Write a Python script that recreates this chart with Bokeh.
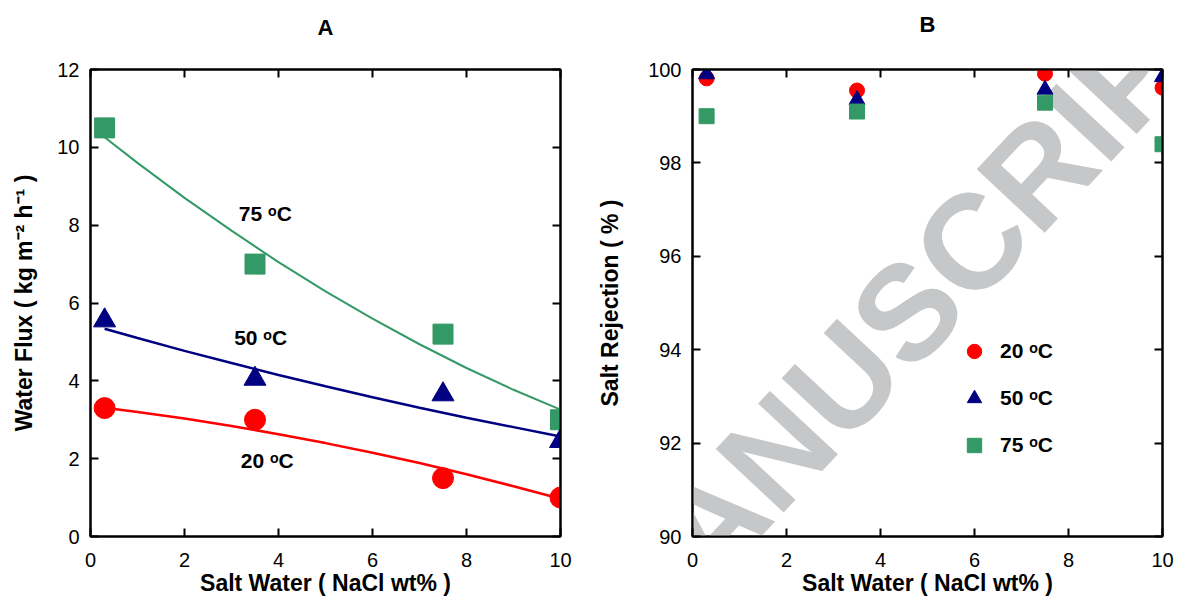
from bokeh.plotting import figure
from bokeh.models import (LinearAxis, FixedTicker, Label, Legend, LegendItem, Range1d)
from bokeh.layouts import row
from bokeh.embed import file_html
from bokeh.resources import INLINE

# ---------------- data ----------------
salt = [0.3, 3.5, 7.5, 10]
flux_20 = [3.3, 3.0, 1.5, 1.0]
flux_50 = [5.55, 4.05, 3.65, 2.45]
flux_75 = [10.5, 7.0, 5.2, 3.0]

# fitted curves
fit_x = [0.3, 1, 2, 3, 4, 5, 6, 7, 8, 9, 10]
fit_20 = [3.31, 3.20, 3.03, 2.84, 2.63, 2.40, 2.15, 1.89, 1.60, 1.29, 0.97]
fit_50 = [5.34, 5.10, 4.77, 4.46, 4.15, 3.86, 3.58, 3.31, 3.05, 2.81, 2.57]
fit_75 = [10.26, 9.60, 8.70, 7.86, 7.05, 6.30, 5.60, 4.94, 4.33, 3.77, 3.26]

rej_20 = [99.81, 99.55, 99.91, 99.61]
rej_50 = [99.9, 99.35, 99.57, 99.84]
rej_75 = [99.0, 99.1, 99.29, 98.4]

series_names = ["20 ᵒC", "50 ᵒC", "75 ᵒC"]
label_x = [3.76, 3.62, 3.72]
label_y = [1.95, 5.12, 8.3]

x_ticks = [0, 2, 4, 6, 8, 10]
yA_ticks = [0, 2, 4, 6, 8, 10, 12]
yB_ticks = [90, 92, 94, 96, 98, 100]

RED = "#ff0000"
NAVY = "#000080"
GREEN = "#339966"
FONT = "Liberation Sans"


def style_axis(ax, ticks, show_labels=True):
    ax.ticker = FixedTicker(ticks=ticks)
    ax.minor_tick_line_color = None
    ax.major_tick_in = 8
    ax.major_tick_out = 0
    ax.major_tick_line_width = 2
    ax.major_tick_line_color = "black"
    ax.axis_line_width = 2
    ax.axis_line_color = "black"
    ax.major_label_text_font = FONT
    ax.major_label_text_color = "black"
    ax.axis_label_text_font = FONT
    ax.axis_label_text_font_style = "bold"
    ax.axis_label_text_font_size = "23px"
    ax.axis_label_text_color = "black"
    ax.level = "overlay"
    if show_labels:
        ax.major_label_text_font_size = "20px"
    else:
        ax.major_label_text_font_size = "0px"
        ax.major_label_standoff = 0


def make_fig(title, yr, yticks, left_border, right_border, xlabel, ylabel,
             ylabel_standoff, title_gap):
    p = figure(frame_width=470, frame_height=467,
               x_range=Range1d(0, 10), y_range=Range1d(*yr),
               output_backend="svg", toolbar_location=None,
               x_axis_location=None, y_axis_location=None,
               min_border_left=left_border, min_border_right=right_border,
               min_border_top=69, min_border_bottom=66)
    p.xgrid.visible = False
    p.ygrid.visible = False
    p.outline_line_color = "black"
    p.outline_line_width = 2
    p.background_fill_color = "white"
    p.border_fill_color = "white"

    bottom = LinearAxis(axis_label=xlabel)
    left = LinearAxis(axis_label=ylabel)
    style_axis(bottom, x_ticks)
    style_axis(left, yticks)
    bottom.major_label_standoff = 16
    bottom.axis_label_standoff = 0
    left.major_label_standoff = 11
    left.axis_label_standoff = ylabel_standoff
    # top axis: inward ticks, panel letter as its label
    top = LinearAxis(axis_label=title)
    right = LinearAxis()
    style_axis(top, x_ticks, show_labels=False)
    style_axis(right, yticks, show_labels=False)
    top.axis_label_text_font_size = "22px"
    top.axis_label_standoff = title_gap
    p.add_layout(bottom, "below")
    p.add_layout(left, "left")
    p.add_layout(top, "above")
    p.add_layout(right, "right")
    return p


# ---------------- panel A ----------------
pA = make_fig("A", (0, 12), yA_ticks, 90, 20,
              "Salt Water ( NaCl wt% )", "Water Flux ( kg m⁻² h⁻¹ )", 17, 30)

pA.line(fit_x, fit_75, line_color=GREEN, line_width=2)
pA.line(fit_x, fit_50, line_color=NAVY, line_width=2.5)
pA.line(fit_x, fit_20, line_color=RED, line_width=2.5)
pA.scatter(salt, flux_75, marker="square", size=20, fill_color=GREEN, line_color=GREEN)
pA.scatter(salt, flux_50, marker="triangle", size=22, fill_color=NAVY, line_color=NAVY)
pA.scatter(salt, flux_20, marker="circle", size=21, fill_color=RED, line_color=RED)

for name, lx, ly in zip(series_names, label_x, label_y):
    pA.add_layout(Label(x=lx, y=ly, text=name, text_font=FONT, text_font_size="21px",
                        text_font_style="bold", text_color="black",
                        text_align="center", text_baseline="middle"))

# ---------------- panel B ----------------
pB = make_fig("B", (90, 100), yB_ticks, 112, 14,
              "Salt Water ( NaCl wt% )", "Salt Rejection ( % )", 22, 33)

# watermark
pB.add_layout(Label(x=-1.96, y=87.77, text="MANUSCRIPT", angle=0.82,
                    text_font=FONT, text_font_size="135px", text_font_style="bold",
                    text_color="#c6c7c9", text_align="left", text_baseline="middle",
                    level="underlay"))

r20 = pB.scatter(salt, rej_20, marker="circle", size=15, fill_color=RED, line_color=RED)
r50 = pB.scatter(salt, rej_50, marker="triangle", size=16, fill_color=NAVY, line_color=NAVY)
r75 = pB.scatter(salt, rej_75, marker="square", size=15, fill_color=GREEN, line_color=GREEN)

legend = Legend(items=[LegendItem(label=series_names[0], renderers=[r20]),
                       LegendItem(label=series_names[1], renderers=[r50]),
                       LegendItem(label=series_names[2], renderers=[r75])],
                location=(264, 73), glyph_width=36, glyph_height=36, spacing=11,
                padding=0, margin=0, label_standoff=8,
                label_text_font=FONT, label_text_font_size="21px",
                label_text_font_style="bold", label_text_color="black",
                border_line_color=None, background_fill_alpha=0)
pB.add_layout(legend, "center")

layout = row(pA, pB)
open("out.html", "w").write(file_html(layout, INLINE))
